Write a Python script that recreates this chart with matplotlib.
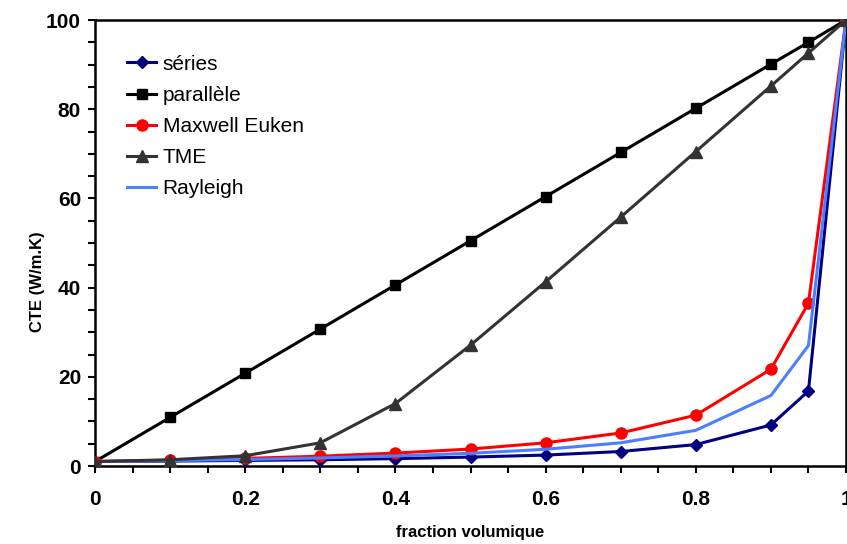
import matplotlib
matplotlib.use("Agg")
import matplotlib.pyplot as plt
from matplotlib.ticker import MultipleLocator

plt.rcParams['font.family'] = ['Liberation Sans', 'DejaVu Sans']

# fraction volumique
fraction = [0, 0.1, 0.2, 0.3, 0.4, 0.5, 0.6, 0.7, 0.8, 0.9, 0.95, 1.0]

series = [1.0, 1.1, 1.25, 1.4, 1.65, 2.0, 2.45, 3.25, 4.8, 9.2, 16.8, 100]
parallele = [1.0, 10.9, 20.8, 30.7, 40.6, 50.5, 60.4, 70.3, 80.2, 90.1, 95.0, 100]
maxwell = [1.0, 1.3, 1.7, 2.2, 2.9, 3.8, 5.2, 7.4, 11.4, 21.7, 36.5, 100]
tme = [1.0, 1.4, 2.3, 5.2, 14.0, 27.1, 41.3, 55.8, 70.5, 85.2, 92.6, 100]
rayleigh = [1.0, 1.2, 1.45, 1.8, 2.25, 2.85, 3.75, 5.2, 8.0, 15.8, 27.0, 100]

fig = plt.figure(figsize=(8.47, 5.44), dpi=100)
ax = fig.add_axes([95 / 847, 1 - 466 / 544, 751 / 847, 446 / 544])

lw = 2.2
ax.plot(fraction, series, color='#000080', lw=lw, marker='D', ms=6, label='séries', zorder=3)
ax.plot(fraction, parallele, color='black', lw=lw, marker='s', ms=7, label='parallèle', zorder=3)
ax.plot(fraction, maxwell, color='#ff0000', lw=lw, marker='o', ms=8, label='Maxwell Euken', zorder=3)
ax.plot(fraction, tme, color='#333333', lw=lw, marker='^', ms=8, label='TME', zorder=5)
ax.plot(fraction, rayleigh, color='#4a7fff', lw=lw, label='Rayleigh', zorder=4)

ax.set_xlim(0, 1)
ax.set_ylim(0, 100)
ax.xaxis.set_minor_locator(MultipleLocator(0.05))
ax.yaxis.set_major_locator(MultipleLocator(20))
ax.yaxis.set_minor_locator(MultipleLocator(5))
ax.set_xticks([0, 0.2, 0.4, 0.6, 0.8, 1.0])
ax.set_xticklabels(['0', '0.2', '0.4', '0.6', '0.8', '1'])

ax.tick_params(which='both', direction='out', length=5, width=1.5)
ax.tick_params(axis='x', which='major', pad=12, labelsize=15)
ax.tick_params(axis='y', which='major', pad=5, labelsize=15)
for lab in ax.get_xticklabels() + ax.get_yticklabels():
    lab.set_fontweight('bold')
for sp in ax.spines.values():
    sp.set_linewidth(1.8)

ax.set_xlabel('fraction volumique', fontsize=12, fontweight='bold', labelpad=12)
ax.set_ylabel('CTE (W/m.K)', fontsize=12, fontweight='bold', labelpad=8)
ax.yaxis.set_label_coords(-0.066, 0.413)

ax.legend(loc='upper left', bbox_to_anchor=(0.043, 0.922), frameon=False,
          fontsize=15, handlelength=1.4, handletextpad=0.3, labelspacing=0.58,
          borderaxespad=0, borderpad=0)

fig.savefig('out.png', dpi=100)
